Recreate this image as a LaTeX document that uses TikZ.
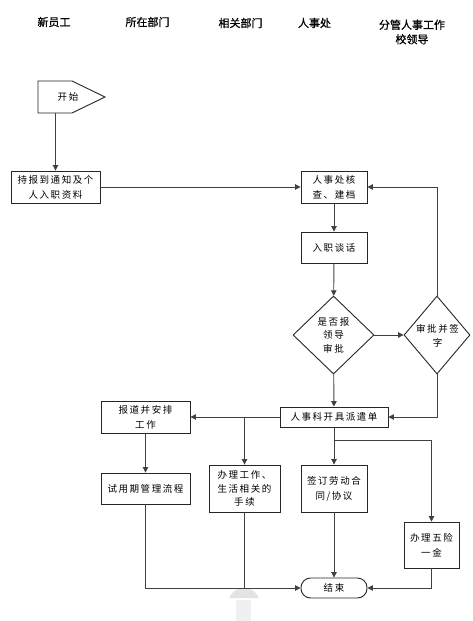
\documentclass[tikz,border=0pt]{standalone}
\usepackage{fontspec}
\newfontfamily\cjk[LetterSpace=16]{Noto Sans CJK SC}
\newfontfamily\cjkh[FakeBold=1]{Noto Sans CJK SC}
\usetikzlibrary{arrows.meta,shapes.geometric}
\begin{document}
\begin{tikzpicture}[x=1pt,y=-1pt,
  box/.style={draw=black!85,line width=0.9pt,fill=white,align=center,inner sep=1pt,
    font=\cjk\fontsize{9.5}{15}\selectfont},
  txt/.style={align=center,inner sep=0pt,font=\cjk\fontsize{9.5}{13.5}\selectfont},
  dia/.style={draw=black!85,line width=0.9pt,fill=white,diamond,inner sep=0pt},
  hdr/.style={align=center,inner sep=0pt,font=\cjkh\fontsize{11}{14.5}\selectfont},
  line/.style={draw=black!75,line width=0.9pt},
  arr/.style={line,-{Triangle[length=5.5pt,width=5.5pt]}}]
\useasboundingbox (0,0) rectangle (473,621);
\fill[white] (0,0) rectangle (473,621);
% watermark arrow
\fill[gray!22] (229,598) .. controls (232,591) and (238,588) .. (244,588) .. controls (250,588) and (256,591) .. (259,598) -- cycle;
\fill[gray!12] (236,600) rectangle (251,621);
% headers
\node[hdr] (h1) at (54,22) {新员工};
\node[hdr] (h2) at (147.5,22) {所在部门};
\node[hdr] (h3) at (240.5,23) {相关部门};
\node[hdr] (h4) at (314.5,23) {人事处};
\node[hdr] (h5) at (412,32) {分管人事工作\\校领导};
% start
\draw[draw=black!85,line width=0.9pt] (38,81) -- (72,81) -- (105,97) -- (72,113) -- (38,113) -- cycle;
\node[txt] (start) at (68,97) {开始};
\coordinate (startb) at (55.5,113);
% boxes
\node[box,minimum width=89pt,minimum height=32pt] (a1) at (55.5,187) {持报到通知及个\\人入职资料};
\node[box,minimum width=66pt,minimum height=32pt] (b1) at (334,187) {人事处核\\查、建档};
\node[box,minimum width=66pt,minimum height=31pt] (b2) at (334,247.5) {入职谈话};
\node[dia,minimum width=81pt,minimum height=78pt] (d1) at (333.5,335) {};
\node[txt] (d1t) at (d1) {是否报\\领导\\审批};
\node[dia,minimum width=66pt,minimum height=78pt] (d2) at (437,335) {};
\node[txt] (d2t) at (437.5,336) {审批并签\\字};
\node[box,minimum width=108pt,minimum height=20pt] (b3) at (334,417) {人事科开具派遣单};
\node[box,minimum width=89pt,minimum height=32pt] (c1) at (145.5,417) {报道并安排\\工作};
\node[box,minimum width=89pt,minimum height=31pt] (c2) at (145.5,488.5) {试用期管理流程};
\node[box,minimum width=71pt,minimum height=47pt,font=\cjk\fontsize{9.5}{13.5}\selectfont] (e1) at (244.5,488.5) {办理工作、\\生活相关的\\手续};
\node[box,minimum width=66pt,minimum height=47pt] (f1) at (334,488.5) {签订劳动合\\同/协议};
\node[box,minimum width=55pt,minimum height=46pt] (g1) at (431.5,545) {办理五险\\一金};
\node[box,minimum width=66pt,minimum height=20pt,rounded corners=9.5pt] (end) at (334,588) {结束};
\coordinate (j1) at (244.5,417);
\coordinate (j2) at (334,440);
% connectors
\draw[arr] (startb) -- (a1.north);
\draw[arr] (a1.east) -- (b1.west);
\draw[arr] (b1) -- (b2);
\draw[arr] (b2) -- (d1);
\draw[arr] (d1.east) -- (d2.west);
\draw[arr] (d2.north) |- (b1.east);
\draw[arr] (d1) -- (b3);
\draw[arr] (d2.south) |- (b3.east);
\draw[arr] (b3.west) -- (c1.east);
\draw[arr] (j1) -- (e1.north);
\draw[arr] (c1) -- (c2);
\draw[arr] (b3) -- (f1);
\draw[arr] (j2) -| (g1.north);
\draw[arr] (f1) -- (end);
\draw[arr] (g1.south) |- (end.east);
\draw[arr] (c2.south) |- (end.west);
\draw[line] (e1.south) -- (e1.south |- end.west);
\end{tikzpicture}
\end{document}
